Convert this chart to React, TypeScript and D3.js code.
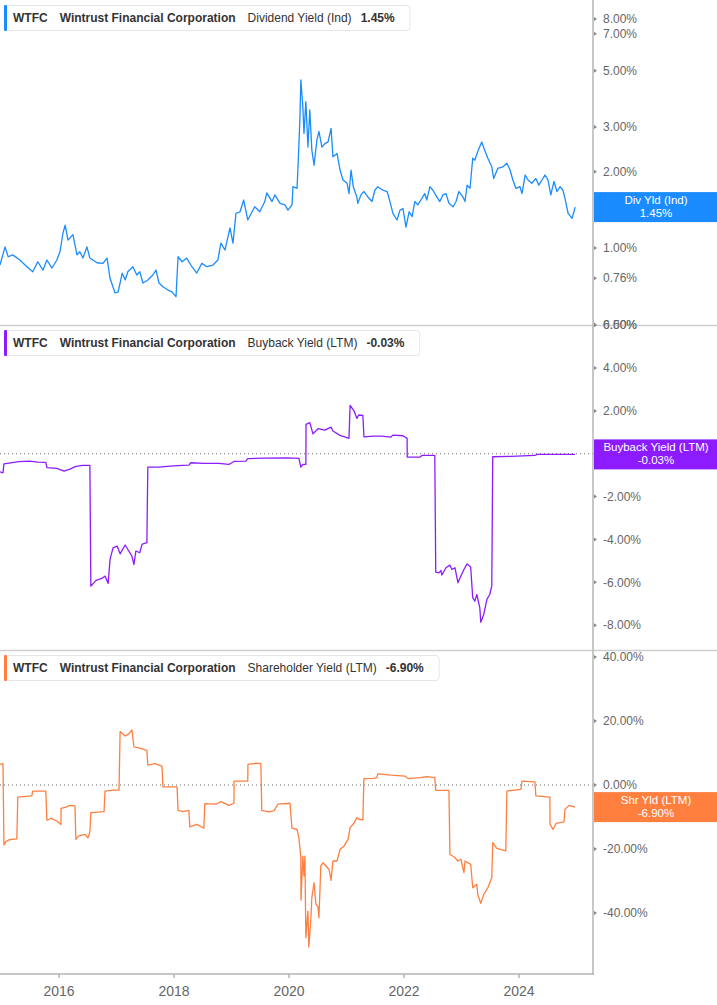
import React, { useEffect, useRef } from 'react';
import * as d3 from 'd3';

// Dividend Yield (Ind), %
const divDates = [
  '2014-12-22', '2015-01-23', '2015-02-12', '2015-03-13', '2015-04-27', '2015-06-11', '2015-07-18', '2015-08-19',
  '2015-09-21', '2015-10-16', '2015-11-17', '2015-12-18', '2016-01-07', '2016-01-26', '2016-02-09', '2016-02-27',
  '2016-03-29', '2016-04-24', '2016-05-12', '2016-06-01', '2016-06-26', '2016-07-15', '2016-08-29', '2016-10-06',
  '2016-11-01', '2016-11-20', '2016-12-22', '2017-01-10', '2017-01-23', '2017-02-05', '2017-02-24', '2017-03-13',
  '2017-04-14', '2017-05-09', '2017-05-28', '2017-06-17', '2017-07-18', '2017-08-19', '2017-09-08', '2017-09-27',
  '2017-10-22', '2017-11-23', '2017-12-18', '2018-01-13', '2018-01-26', '2018-02-21', '2018-03-22', '2018-04-24',
  '2018-05-25', '2018-06-26', '2018-07-28', '2018-09-05', '2018-10-06', '2018-10-25', '2018-11-20', '2018-12-22',
  '2019-01-10', '2019-01-29', '2019-02-24', '2019-03-19', '2019-04-14', '2019-05-28', '2019-06-29', '2019-07-31',
  '2019-08-13', '2019-09-15', '2019-10-03', '2019-11-05', '2019-12-06', '2019-12-25', '2020-01-20', '2020-01-26',
  '2020-02-21', '2020-02-27', '2020-03-10', '2020-03-16', '2020-03-29', '2020-04-05', '2020-04-17', '2020-04-30',
  '2020-05-12', '2020-05-25', '2020-06-08', '2020-06-26', '2020-07-09', '2020-07-28', '2020-08-16', '2020-09-05',
  '2020-09-24', '2020-10-06', '2020-11-01', '2020-11-20', '2020-12-09', '2021-01-04', '2021-01-16', '2021-01-29',
  '2021-02-12', '2021-03-07', '2021-03-13', '2021-04-02', '2021-04-21', '2021-05-16', '2021-06-11', '2021-06-29',
  '2021-07-18', '2021-08-19', '2021-09-15', '2021-10-03', '2021-10-22', '2021-11-17', '2021-12-06', '2021-12-25',
  '2022-01-13', '2022-02-02', '2022-02-21', '2022-03-10', '2022-03-29', '2022-04-24', '2022-05-12', '2022-05-25',
  '2022-06-14', '2022-07-03', '2022-07-28', '2022-08-16', '2022-09-05', '2022-09-24', '2022-10-13', '2022-11-08',
  '2022-11-27', '2022-12-15', '2023-01-10', '2023-01-23', '2023-02-05', '2023-02-24', '2023-03-13', '2023-03-26',
  '2023-04-14', '2023-05-09', '2023-05-28', '2023-06-17', '2023-07-12', '2023-07-24', '2023-08-19', '2023-09-21',
  '2023-10-16', '2023-11-05', '2023-11-23', '2023-12-12', '2024-01-07', '2024-01-20', '2024-02-09', '2024-02-27',
  '2024-03-22', '2024-04-17', '2024-05-06', '2024-06-14', '2024-07-03', '2024-07-21', '2024-08-10', '2024-08-29',
  '2024-09-18', '2024-10-06', '2024-10-19', '2024-11-08', '2024-12-03', '2024-12-15', '2024-12-22',
];
const divValues = [
  0.857, 1.01, 0.924, 0.94, 0.897, 0.844, 0.806, 0.883,
  0.819, 0.897, 0.834, 0.897, 0.967, 1.146, 1.23, 1.075,
  1.13, 0.94, 0.967, 0.913, 1.01, 0.913, 0.875, 0.87,
  0.913, 0.76, 0.665, 0.672, 0.728, 0.797, 0.748, 0.806,
  0.844, 0.783, 0.806, 0.728, 0.748, 0.783, 0.819, 0.728,
  0.704, 0.683, 0.672, 0.643, 0.924, 0.883, 0.913, 0.844,
  0.797, 0.87, 0.844, 0.857, 0.897, 1.046, 0.982, 1.2,
  1.046, 1.37, 1.39, 1.546, 1.29, 1.455, 1.39, 1.525,
  1.65, 1.525, 1.62, 1.5, 1.48, 1.41, 1.48, 1.745,
  1.72, 2.09, 3.2, 4.6, 3.6, 2.83, 3.78, 2.5,
  3.5, 2.43, 2.12, 2.67, 2.88, 2.5, 2.58, 2.62,
  2.96, 2.29, 2.36, 2.03, 1.855, 1.8, 1.64, 2.03,
  1.745, 1.59, 1.5, 1.62, 1.67, 1.59, 1.525, 1.69,
  1.745, 1.69, 1.67, 1.525, 1.37, 1.29, 1.41, 1.43,
  1.21, 1.39, 1.33, 1.525, 1.48, 1.57, 1.64, 1.546,
  1.745, 1.69, 1.59, 1.525, 1.62, 1.64, 1.5, 1.455,
  1.525, 1.67, 1.59, 1.525, 1.77, 1.72, 2.26, 2.22,
  2.4, 2.62, 2.43, 2.26, 2.09, 1.88, 2.06, 2.09,
  2.16, 2.03, 1.855, 1.72, 1.745, 1.64, 1.94, 1.855,
  1.8, 1.88, 1.77, 1.94, 1.855, 1.62, 1.83, 1.67,
  1.745, 1.69, 1.57, 1.37, 1.31, 1.39, 1.45,
];

// Buyback Yield (LTM), %
const buyDates = [
  '2014-12-22', '2015-01-10', '2015-01-16', '2015-04-21', '2015-06-29', '2015-08-19', '2015-10-09', '2015-10-16',
  '2015-12-18', '2016-02-02', '2016-03-10', '2016-04-17', '2016-06-01', '2016-07-15', '2016-07-21', '2016-08-23',
  '2016-09-30', '2016-10-19', '2016-11-08', '2016-11-20', '2016-12-09', '2017-01-04', '2017-01-23', '2017-02-24',
  '2017-03-19', '2017-04-08', '2017-04-21', '2017-05-03', '2017-05-28', '2017-06-11', '2017-06-23', '2017-07-12',
  '2017-07-18', '2017-09-27', '2017-12-06', '2018-02-21', '2018-04-05', '2018-04-17', '2018-07-09', '2018-10-13',
  '2018-12-15', '2019-01-16', '2019-04-02', '2019-04-14', '2019-07-31', '2019-12-18', '2020-03-04', '2020-03-16',
  '2020-03-29', '2020-04-17', '2020-04-18', '2020-05-12', '2020-06-01', '2020-07-03', '2020-08-16', '2020-09-24',
  '2020-10-06', '2020-11-20', '2021-01-16', '2021-01-23', '2021-02-18', '2021-03-07', '2021-03-19', '2021-04-14',
  '2021-04-21', '2021-06-23', '2021-08-13', '2021-10-09', '2021-10-22', '2021-12-25', '2022-01-20', '2022-01-21',
  '2022-04-11', '2022-04-24', '2022-07-15', '2022-07-21', '2022-08-10', '2022-08-23', '2022-08-29', '2022-09-24',
  '2022-10-19', '2022-11-01', '2022-11-20', '2022-12-09', '2022-12-28', '2023-01-16', '2023-02-05', '2023-02-28',
  '2023-03-13', '2023-03-26', '2023-04-08', '2023-04-27', '2023-05-03', '2023-05-22', '2023-06-11', '2023-06-29',
  '2023-07-12', '2023-07-18', '2023-11-11', '2024-04-11', '2024-04-24', '2024-12-22',
];
const buyValues = [
  -0.84, -0.89, -0.47, -0.37, -0.34, -0.39, -0.40, -0.65,
  -0.68, -0.81, -0.72, -0.59, -0.54, -0.54, -6.18, -5.91,
  -5.82, -5.71, -6.05, -4.93, -4.39, -4.31, -4.67, -4.26,
  -4.54, -4.78, -5.17, -4.54, -4.62, -4.23, -4.19, -4.15,
  -0.62, -0.62, -0.58, -0.54, -0.53, -0.42, -0.45, -0.45,
  -0.50, -0.36, -0.34, -0.23, -0.20, -0.19, -0.22, -0.62,
  -0.50, -0.50, 1.37, 1.45, 0.93, 1.17, 1.10, 1.24,
  1.06, 0.86, 0.72, 2.26, 1.99, 1.65, 1.81, 1.79,
  0.79, 0.82, 0.82, 0.78, 0.87, 0.84, 0.72, -0.16,
  -0.16, -0.08, -0.08, -5.52, -5.56, -5.45, -5.66, -5.32,
  -5.20, -5.40, -5.32, -6.02, -5.71, -5.40, -5.14, -5.29,
  -6.72, -6.88, -6.57, -7.19, -7.86, -7.50, -6.80, -6.57,
  -6.18, -0.14, -0.12, -0.08, -0.03, -0.03,
];

// Shareholder Yield (LTM), %
const shrDates = [
  '2014-12-22', '2015-01-10', '2015-01-16', '2015-01-29', '2015-02-18', '2015-04-08', '2015-04-14', '2015-07-12',
  '2015-07-18', '2015-10-09', '2015-10-16', '2015-11-11', '2015-12-18', '2016-01-13', '2016-01-14', '2016-02-15',
  '2016-03-10', '2016-04-11', '2016-04-17', '2016-05-06', '2016-06-14', '2016-07-03', '2016-07-15', '2016-07-21',
  '2016-10-13', '2016-10-19', '2016-12-09', '2017-01-16', '2017-01-23', '2017-02-24', '2017-03-19', '2017-04-08',
  '2017-04-21', '2017-05-28', '2017-07-12', '2017-07-18', '2017-09-02', '2017-10-16', '2017-10-22', '2018-01-20',
  '2018-01-26', '2018-02-27', '2018-04-05', '2018-04-11', '2018-05-25', '2018-07-09', '2018-07-15', '2018-09-24',
  '2018-10-25', '2018-12-15', '2019-01-16', '2019-01-17', '2019-04-14', '2019-04-15', '2019-05-28', '2019-07-06',
  '2019-07-12', '2019-08-26', '2019-09-27', '2019-10-22', '2020-01-07', '2020-01-20', '2020-02-21', '2020-03-04',
  '2020-03-16', '2020-03-17', '2020-03-29', '2020-04-05', '2020-04-11', '2020-04-17', '2020-04-30', '2020-05-06',
  '2020-05-19', '2020-05-25', '2020-06-08', '2020-06-20', '2020-07-03', '2020-07-09', '2020-07-21', '2020-08-04',
  '2020-08-23', '2020-09-11', '2020-09-24', '2020-10-06', '2020-11-01', '2020-11-20', '2020-12-15', '2021-01-10',
  '2021-01-23', '2021-02-18', '2021-03-07', '2021-03-19', '2021-04-14', '2021-04-21', '2021-06-23', '2021-07-12',
  '2021-07-18', '2021-10-09', '2022-01-07', '2022-01-26', '2022-04-11', '2022-05-25', '2022-07-15', '2022-07-21',
  '2022-10-13', '2022-10-19', '2022-11-14', '2022-12-09', '2022-12-28', '2023-01-16', '2023-01-23', '2023-02-28',
  '2023-03-13', '2023-04-08', '2023-04-14', '2023-05-03', '2023-05-22', '2023-06-17', '2023-07-12', '2023-07-18',
  '2023-08-13', '2023-10-09', '2023-10-16', '2024-01-13', '2024-01-20', '2024-04-11', '2024-04-17', '2024-07-15',
  '2024-07-16', '2024-08-04', '2024-08-23', '2024-10-13', '2024-10-19', '2024-11-14', '2024-12-22',
];
const shrValues = [
  6.46, 6.7, -18.75, -17.7, -17.1, -16.8, -3.75, -3.4,
  -1.9, -1.9, -11.0, -10.4, -11.25, -12.3, -7.3, -6.9,
  -6.35, -6.5, -17.0, -15.9, -15.4, -16.5, -14.6, -8.6,
  -8.3, -1.9, -1.6, -1.6, 16.7, 15.3, 16.0, 17.2,
  11.9, 11.5, 10.8, 6.25, 6.7, 5.9, -0.6, -0.6,
  -7.9, -8.3, -7.9, -13.1, -12.3, -13.5, -5.8, -6.0,
  -5.2, -6.35, -5.7, 1.25, 1.25, 6.46, 6.8, 6.7,
  -7.9, -8.4, -8.1, -6.0, -5.7, -13.5, -13.9, -16.5,
  -22.7, -36.0, -22.2, -28.4, -22.2, -47.7, -39.4, -50.6,
  -41.5, -35.2, -30.5, -37.3, -38.1, -41.5, -25.3, -24.3,
  -25.3, -26.4, -29.8, -23.75, -23.75, -20.1, -19.1, -17.0,
  -13.3, -11.8, -10.2, -10.7, -10.9, 2.0, 2.1, 2.3,
  3.5, 3.1, 2.8, 2.0, 2.3, 2.6, 2.3, -1.7,
  -1.7, -21.7, -22.4, -23.75, -23.2, -27.4, -23.75, -24.8,
  -32.1, -31.0, -34.2, -37.0, -34.2, -32.1, -29.0, -18.0,
  -19.8, -20.6, -1.9, -1.35, 1.25, 1.0, -3.4, -3.75,
  -12.3, -13.9, -12.0, -11.5, -7.6, -6.35, -6.9,
];

const divTicks = [8, 7, 5, 3, 2, 1, 0.76, 0.5];
const buyTicks = [6, 4, 2, 0, -2, -4, -6, -8];
const shrTicks = [40, 20, 0, -20, -40];
const yearTicks = ['2016', '2018', '2020', '2022', '2024'];

const BLUE = '#1a8cff';
const PURPLE = '#8c1cff';
const ORANGE = '#ff7f3f';

const App = () => {
  const svgRef = useRef(null);

  useEffect(() => {
    document.body.style.margin = '0';
    const svg = d3.select(svgRef.current);
    svg.selectAll('*').remove();

    const plotRight = 593;
    const parse = d3.timeParse('%Y-%m-%d');
    const x = d3.scaleTime()
      .domain([parse('2014-12-22'), parse('2025-04-15')])
      .range([0, plotRight]);

    const panels = [
      {
        top: 0, bottom: 325, color: BLUE, dates: divDates, values: divValues,
        y: d3.scaleLog().domain([0.4973, 9.5]).range([325, 0]),
        ticks: divTicks, zero: false,
        name: 'Dividend Yield (Ind)', last: '1.45%', tag: 'Div Yld (Ind)',
      },
      {
        top: 325, bottom: 650, color: PURPLE, dates: buyDates, values: buyValues,
        y: d3.scaleLinear().domain([-9.16, 6.01]).range([650, 325]),
        ticks: buyTicks, zero: true,
        name: 'Buyback Yield (LTM)', last: '-0.03%', tag: 'Buyback Yield (LTM)',
      },
      {
        top: 650, bottom: 974, color: ORANGE, dates: shrDates, values: shrValues,
        y: d3.scaleLinear().domain([-59.06, 42.2]).range([974, 650]),
        ticks: shrTicks, zero: true,
        name: 'Shareholder Yield (LTM)', last: '-6.90%', tag: 'Shr Yld (LTM)',
      },
    ];

    const font = '"Liberation Sans", Arial, sans-serif';

    panels.forEach((p, i) => {
      const g = svg.append('g');

      // separator line between panels
      if (i > 0) {
        g.append('line')
          .attr('x1', 0).attr('x2', 717)
          .attr('y1', p.top + 0.5).attr('y2', p.top + 0.5)
          .attr('stroke', '#cfcfcf').attr('stroke-width', 1.5);
      }

      if (p.zero) {
        g.append('line')
          .attr('x1', 0).attr('x2', plotRight)
          .attr('y1', p.y(0)).attr('y2', p.y(0))
          .attr('stroke', '#666').attr('stroke-width', 1)
          .attr('stroke-dasharray', '1,3');
      }

      const data = p.dates.map((d, k) => ({ date: parse(d), v: p.values[k] }));
      const line = d3.line()
        .x(d => x(d.date))
        .y(d => p.y(d.v));

      g.append('path')
        .datum(data)
        .attr('fill', 'none')
        .attr('stroke', p.color)
        .attr('stroke-width', 1.3)
        .attr('stroke-linejoin', 'round')
        .attr('d', line);

      // right axis ticks
      p.ticks.forEach(t => {
        const ty = p.y(t);
        g.append('path')
          .attr('d', `M${plotRight + 1},${ty - 2}L${plotRight + 4},${ty}L${plotRight + 1},${ty + 2}Z`)
          .attr('fill', '#888');
        g.append('text')
          .attr('x', 603).attr('y', ty)
          .attr('dy', '0.35em')
          .attr('font-family', font).attr('font-size', 12)
          .attr('fill', '#666')
          .text(t.toFixed(2) + '%');
      });

      // last value tag
      const lastY = p.y(p.values[p.values.length - 1]);
      g.append('rect')
        .attr('x', plotRight + 1).attr('y', lastY - 15)
        .attr('width', 717 - plotRight).attr('height', 30)
        .attr('fill', p.color);
      const tagText = g.append('text')
        .attr('x', 656).attr('text-anchor', 'middle')
        .attr('font-family', font).attr('font-size', 11.5)
        .attr('fill', '#fff');
      tagText.append('tspan').attr('x', 656).attr('y', lastY - 3).text(p.tag);
      tagText.append('tspan').attr('x', 656).attr('y', lastY + 10).text(p.last);

      // legend box
      const legTop = p.top + 5;
      const legRect = g.append('rect')
        .attr('x', 4.5).attr('y', legTop + 0.5)
        .attr('height', 25).attr('rx', 3)
        .attr('fill', '#fff').attr('stroke', '#e6e6e6');
      g.append('rect')
        .attr('x', 4).attr('y', legTop)
        .attr('width', 3).attr('height', 26).attr('rx', 1)
        .attr('fill', p.color);
      const leg = g.append('text')
        .attr('x', 13).attr('y', legTop + 17)
        .attr('font-family', font).attr('font-size', 12)
        .attr('fill', '#333');
      leg.append('tspan').attr('font-weight', 'bold').text('WTFC');
      leg.append('tspan').attr('dx', 12).attr('font-weight', 'bold').text('Wintrust Financial Corporation');
      leg.append('tspan').attr('dx', 12).text(p.name);
      leg.append('tspan').attr('dx', 9).attr('font-weight', 'bold').text(p.last);
      const bb = leg.node().getBBox();
      legRect.attr('width', bb.x + bb.width + 15 - 4.5);
    });

    // right axis line
    svg.append('line')
      .attr('x1', plotRight).attr('x2', plotRight)
      .attr('y1', 0).attr('y2', 975)
      .attr('stroke', '#b5b5b5').attr('stroke-width', 1.5);

    // bottom axis
    svg.append('line')
      .attr('x1', 0).attr('x2', plotRight + 0.75)
      .attr('y1', 974).attr('y2', 974)
      .attr('stroke', '#b5b5b5').attr('stroke-width', 1.5);

    yearTicks.forEach(yr => {
      const tx = x(parse(`${yr}-01-01`));
      svg.append('line')
        .attr('x1', tx).attr('x2', tx)
        .attr('y1', 974).attr('y2', 978)
        .attr('stroke', '#b5b5b5').attr('stroke-width', 1.5);
      svg.append('text')
        .attr('x', tx).attr('y', 996)
        .attr('text-anchor', 'middle')
        .attr('font-family', font).attr('font-size', 14)
        .attr('fill', '#666')
        .text(yr);
    });
  }, []);

  return (
    <svg ref={svgRef} width={717} height={1005} style={{ display: 'block' }}></svg>
  );
};

export default App;
